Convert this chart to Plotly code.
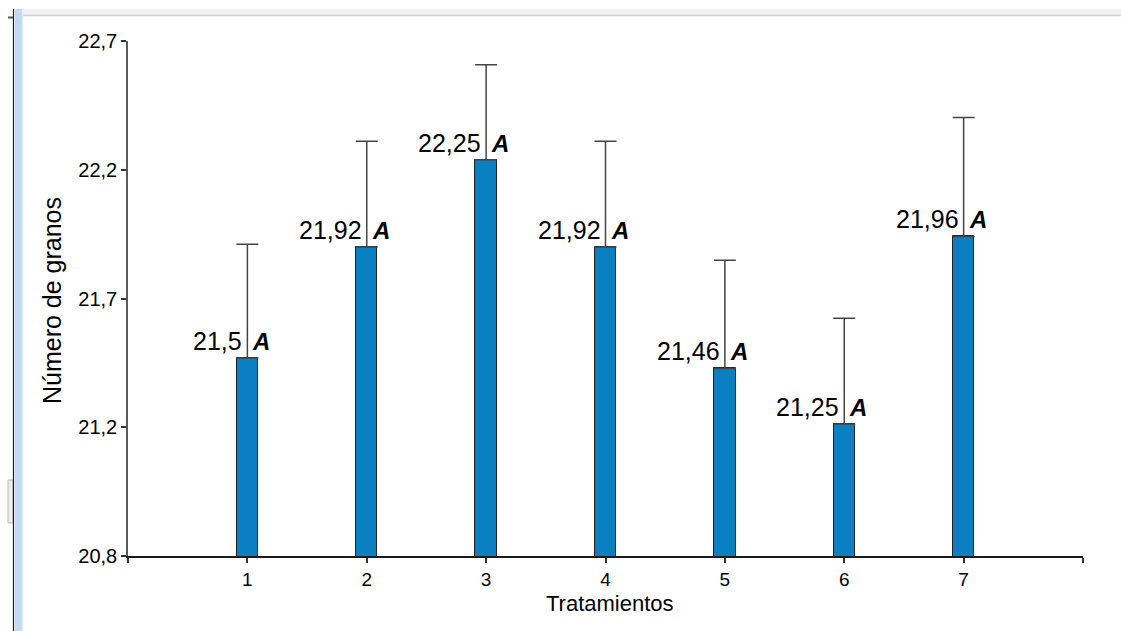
import plotly.graph_objects as go

# Treatment means, upper error bars and significance letters
tratamientos = [1, 2, 3, 4, 5, 6, 7]
medias = [21.5, 21.92, 22.25, 21.92, 21.46, 21.25, 21.96]
error_sup = [0.43, 0.40, 0.36, 0.40, 0.41, 0.40, 0.45]
letras = ["A", "A", "A", "A", "A", "A", "A"]

# Y axis: 4 equal steps from 20.75 to 22.7, labelled with one decimal (comma)
y_min, y_max = 20.75, 22.7
y_ticks = [20.75, 21.2375, 21.725, 22.2125, 22.7]
y_ticklabels = ["20,8", "21,2", "21,7", "22,2", "22,7"]

FONT = "Liberation Sans, Arial, sans-serif"
BAR_COLOR = "#0a7fc2"

fig = go.Figure()
fig.add_trace(go.Bar(
    x=tratamientos,
    y=medias,
    width=0.18,
    marker=dict(color=BAR_COLOR, line=dict(color="#222222", width=1)),
    error_y=dict(
        type="data",
        symmetric=False,
        array=error_sup,
        arrayminus=[0] * len(medias),
        color="#444444",
        thickness=1.5,
        width=11,
    ),
    showlegend=False,
    hoverinfo="skip",
))

annotations = []
for x, m, letra in zip(tratamientos, medias, letras):
    etiqueta = f"{m:g}".replace(".", ",")
    annotations.append(dict(
        x=x, y=m, xref="x", yref="y", text=etiqueta, showarrow=False,
        xanchor="right", yanchor="bottom", xshift=-3, yshift=1,
        font=dict(family=FONT, size=25, color="#000000"),
    ))
    annotations.append(dict(
        x=x, y=m, xref="x", yref="y", text=f"<b><i>{letra}</i></b>", showarrow=False,
        xanchor="left", yanchor="bottom", xshift=3, yshift=1,
        font=dict(family=FONT, size=24, color="#000000"),
    ))

# Axis titles
annotations.append(dict(
    x=-0.0796, y=0.497, xref="paper", yref="paper", text="Número de granos",
    showarrow=False, textangle=-90, xanchor="center", yanchor="middle",
    font=dict(family=FONT, size=25, color="#000000"),
))
annotations.append(dict(
    x=0.5047, y=-0.0913, xref="paper", yref="paper", text="Tratamientos",
    showarrow=False, xanchor="center", yanchor="middle",
    font=dict(family=FONT, size=22, color="#000000"),
))

# Window frame around the chart (top bar and left border)
def px_x(p):
    return (p - 128) / 955.0

def px_y(p):
    return (556 - p) / 515.0

shapes = [
    dict(type="rect", xref="paper", yref="paper", x0=px_x(23), x1=px_x(1125),
         y0=px_y(16), y1=px_y(9), fillcolor="#f0f0f0", line=dict(width=0), layer="below"),
    dict(type="line", xref="paper", yref="paper", x0=px_x(23), x1=px_x(1125),
         y0=px_y(15.5), y1=px_y(15.5), line=dict(color="#d2d2d2", width=1.5)),
    dict(type="rect", xref="paper", yref="paper", x0=px_x(15), x1=px_x(22.5),
         y0=px_y(640), y1=px_y(9), fillcolor="#c3d9ef", line=dict(width=0), layer="below"),
    dict(type="line", xref="paper", yref="paper", x0=px_x(13.5), x1=px_x(13.5),
         y0=px_y(640), y1=px_y(9), line=dict(color="#1a1a1a", width=1.2)),
    dict(type="line", xref="paper", yref="paper", x0=px_x(8), x1=px_x(13),
         y0=px_y(17.5), y1=px_y(17.5), line=dict(color="#555555", width=2)),
    dict(type="rect", xref="paper", yref="paper", x0=px_x(8), x1=px_x(13),
         y0=px_y(523), y1=px_y(480), fillcolor="#eeeeee", line=dict(color="#b5b5b5", width=1),
         layer="below"),
]

fig.update_layout(
    width=1121,
    height=631,
    margin=dict(l=128, r=38, t=41, b=75),
    paper_bgcolor="#ffffff",
    plot_bgcolor="#ffffff",
    font=dict(family=FONT, color="#000000"),
    bargap=0,
    annotations=annotations,
    shapes=shapes,
    xaxis=dict(
        range=[0, 8],
        tickmode="array",
        tickvals=[0] + tratamientos + [8],
        ticktext=[""] + [str(t) for t in tratamientos] + [""],
        ticks="outside", ticklen=5, tickcolor="#333333", tickwidth=1.5,
        showline=True, linecolor="#1a1a1a", linewidth=1.5,
        showgrid=False, zeroline=False,
        tickfont=dict(family=FONT, size=19, color="#000000"),
        fixedrange=True,
    ),
    yaxis=dict(
        range=[y_min, y_max],
        tickmode="array",
        tickvals=y_ticks,
        ticktext=y_ticklabels,
        ticks="outside", ticklen=5, tickcolor="#333333", tickwidth=1.5,
        showline=True, linecolor="#5a5a5a", linewidth=1.5,
        showgrid=False, zeroline=False,
        tickfont=dict(family=FONT, size=20, color="#000000"),
        ticklabelstandoff=0,
        fixedrange=True,
    ),
)

fig.write_html("out.html", config={"displayModeBar": False})
